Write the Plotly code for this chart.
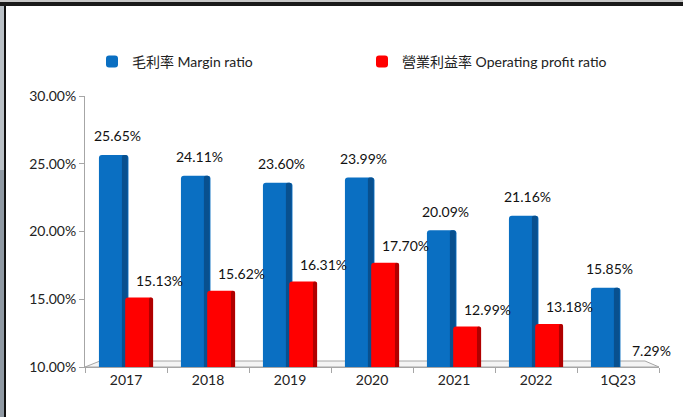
import plotly.graph_objects as go

# values (percent)
periods = ['2017', '2018', '2019', '2020', '2021', '2022', '1Q23']
margin_ratio = [25.65, 24.11, 23.60, 23.99, 20.09, 21.16, 15.85]
op_profit_ratio = [15.13, 15.62, 16.31, 17.70, 12.99, 13.18, 7.29]
y_ticks = [10, 15, 20, 25, 30]

BLUE = '#0a6fc2'
BLUE_SIDE = '#08508f'
RED = '#ff0000'
RED_SIDE = '#b00000'
FONT = 'Lato, Noto Sans CJK TC, sans-serif'

W, H = 683, 417
L, R, T, B = 85, 24, 96, 50
Y_MIN, Y_MAX = 10, 30


def px_x(p):
    return (p - L) / (W - L - R)


def px_y(p):
    return (H - B - p) / (H - T - B)


fig = go.Figure()

# blue front + side face
fig.add_trace(go.Bar(
    x=periods, y=margin_ratio, name='毛利率 Margin ratio',
    offset=-0.33, width=0.36, marker=dict(color=BLUE, line=dict(width=0)),
))
fig.add_trace(go.Bar(
    x=periods, y=margin_ratio, showlegend=False, hoverinfo='skip',
    offset=-0.05, width=0.07, marker=dict(color=BLUE_SIDE, line=dict(width=0)),
))
# red front + side face
fig.add_trace(go.Bar(
    x=periods, y=op_profit_ratio, name='營業利益率 Operating profit ratio',
    offset=-0.01, width=0.34, marker=dict(color=RED, line=dict(width=0)),
))
fig.add_trace(go.Bar(
    x=periods, y=op_profit_ratio, showlegend=False, hoverinfo='skip',
    offset=0.28, width=0.05, marker=dict(color=RED_SIDE, line=dict(width=0)),
))

# value labels (x given as category index so '2017' is not read as a number)
annotations = []
for i, v in enumerate(margin_ratio):
    annotations.append(dict(
        x=i, y=max(v, Y_MIN), text=f'{v:.2f}%', showarrow=False,
        xshift=-9, yshift=19, font=dict(size=14, color='#111', family=FONT),
    ))
for i, v in enumerate(op_profit_ratio):
    annotations.append(dict(
        x=i, y=max(v, Y_MIN), text=f'{v:.2f}%', showarrow=False,
        xshift=33, yshift=17, font=dict(size=14, color='#111', family=FONT),
    ))

shapes = [
    # 3D floor
    dict(type='path', xref='paper', yref='paper', layer='below',
         path=f'M {px_x(85)},{px_y(367)} L {px_x(100)},{px_y(361)} '
              f'L {px_x(645)},{px_y(361)} L {px_x(659)},{px_y(367)} Z',
         fillcolor='#f4f4f4', line=dict(color='#a6a6a6', width=1)),
    # window frame bits
    dict(type='rect', xref='paper', yref='paper', layer='above',
         x0=px_x(0), x1=px_x(W), y0=px_y(0), y1=px_y(2),
         fillcolor='#c8c8c8', line=dict(width=0)),
    dict(type='rect', xref='paper', yref='paper', layer='above',
         x0=px_x(0), x1=px_x(W), y0=px_y(2), y1=px_y(6),
         fillcolor='#1a1a1a', line=dict(width=0)),
    dict(type='rect', xref='paper', yref='paper', layer='above',
         x0=px_x(0), x1=px_x(4), y0=px_y(6), y1=px_y(170),
         fillcolor='#b9c0c6', line=dict(width=0)),
    dict(type='rect', xref='paper', yref='paper', layer='above',
         x0=px_x(0), x1=px_x(4), y0=px_y(170), y1=px_y(H),
         fillcolor='#8f99a3', line=dict(width=0)),
    dict(type='rect', xref='paper', yref='paper', layer='above',
         x0=px_x(4), x1=px_x(6), y0=px_y(6), y1=px_y(H),
         fillcolor='#111111', line=dict(width=0)),
]

fig.update_layout(
    width=W, height=H,
    margin=dict(l=L, r=R, t=T, b=B),
    paper_bgcolor='white', plot_bgcolor='white',
    font=dict(family=FONT, size=13, color='#222'),
    barmode='overlay', barcornerradius=3,
    showlegend=True,
    legend=dict(
        orientation='h', x=px_x(92), y=px_y(62), xanchor='left', yanchor='middle',
        entrywidth=225, entrywidthmode='pixels', itemwidth=30,
        font=dict(size=14, family=FONT, color='#222'),
        bgcolor='rgba(0,0,0,0)', traceorder='normal',
    ),
    annotations=annotations,
    shapes=shapes,
)
fig.update_xaxes(
    type='category', range=[-0.5, 6.5], showgrid=False,
    showline=True, linecolor='#a6a6a6', linewidth=1,
    ticks='outside', tickson='boundaries', ticklen=5, tickcolor='#a6a6a6',
    tickfont=dict(size=14, color='#222'),
)
fig.update_yaxes(
    range=[Y_MIN, Y_MAX], tickvals=y_ticks,
    ticktext=[f'{t:.2f}%' for t in y_ticks],
    showgrid=False, zeroline=False,
    showline=True, linecolor='#a6a6a6', linewidth=1,
    ticks='outside', ticklen=5, tickcolor='#a6a6a6',
    tickfont=dict(size=14, color='#222'),
)

fig.write_html(
    'out.html',
    config={'displayModeBar': False},
    post_script="document.body.style.margin='0';",
)
